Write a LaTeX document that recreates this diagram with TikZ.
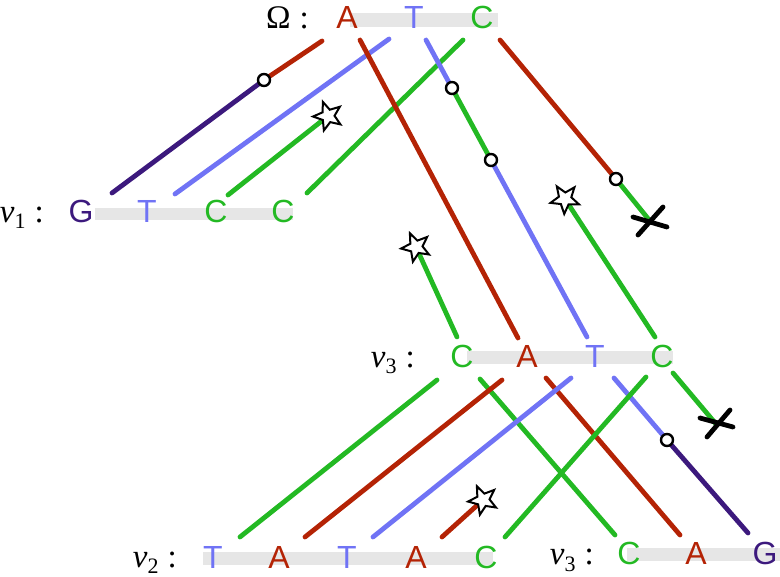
\documentclass[tikz,border=0pt]{standalone}
\usepackage{fontspec}
\newfontfamily\lettfont{Liberation Sans}
\newfontfamily\labfont{Liberation Serif}
\usetikzlibrary{shapes.geometric}
\definecolor{cred}{RGB}{180,35,5}
\definecolor{cblue}{RGB}{112,115,245}
\definecolor{cgreen}{RGB}{35,185,35}
\definecolor{cpurple}{RGB}{60,25,125}
\definecolor{cbar}{RGB}{230,230,230}
\newcommand{\seqname}[1]{\textit{v}\raisebox{-6pt}{\fontsize{22}{26}\selectfont #1}\hspace{9pt}:}
\tikzset{
  link/.style={line width=4.8pt, line cap=round},
  letter/.style={font=\lettfont\fontsize{32}{38}\selectfont, inner sep=0pt, anchor=base},
  seqlabel/.style={font=\labfont\fontsize{33}{40}\selectfont, inner sep=0pt, anchor=base east},
  ring/.style={circle, draw=black, fill=white, line width=2.4pt, minimum size=12pt, inner sep=0pt},
  starmark/.style={star, star points=5, star point ratio=2.3, draw=black, fill=white, line width=2pt, minimum size=30pt, inner sep=0pt},
  cross/.style={line width=4.8pt, black, line cap=round},
  seqbar/.style={fill=cbar},
}
\begin{document}
\begin{tikzpicture}[x=1pt,y=-1pt]
\useasboundingbox (0,0) rectangle (780,577);
% bars
\fill[seqbar] (350,13) rectangle (498,27);
\fill[seqbar] (95,208) rectangle (293,220);
\fill[seqbar] (467,351) rectangle (673,364);
\fill[seqbar] (203,552) rectangle (493,565);
\fill[seqbar] (627,548) rectangle (780,561);
% labels
\node[seqlabel] (lo) at (309,29) {Ω\hspace{9pt}:};
\node[seqlabel] (la) at (44,223) {\seqname{1}};
\node[seqlabel] (lb) at (415,368) {\seqname{3}};
\node[seqlabel] (lc) at (177,567) {\seqname{2}};
\node[seqlabel] (ld) at (594,565) {\seqname{3}};
% letters
\node[letter, text=cred] (oA) at (347,29) {A};
\node[letter, text=cblue] (oT) at (414,29) {T};
\node[letter, text=cgreen] (oC) at (482,29) {C};
\node[letter, text=cpurple] (aG) at (81,223) {G};
\node[letter, text=cblue] (aT) at (147,223) {T};
\node[letter, text=cgreen] (aC1) at (216,223) {C};
\node[letter, text=cgreen] (aC2) at (283,223) {C};
\node[letter, text=cgreen] (bC1) at (462,368) {C};
\node[letter, text=cred] (bA) at (527,368) {A};
\node[letter, text=cblue] (bT) at (595,368) {T};
\node[letter, text=cgreen] (bC2) at (662,368) {C};
\node[letter, text=cblue] (cT1) at (213,568) {T};
\node[letter, text=cred] (cA1) at (279,568) {A};
\node[letter, text=cblue] (cT2) at (347,568) {T};
\node[letter, text=cred] (cA2) at (416,568) {A};
\node[letter, text=cgreen] (cC) at (486,568) {C};
\node[letter, text=cgreen] (dC) at (629,565) {C};
\node[letter, text=cred] (dA) at (696,565) {A};
\node[letter, text=cpurple] (dG) at (765,565) {G};
% connector end points
\coordinate (p1) at (322,41);  \coordinate (q1) at (112,193);
\coordinate (p2) at (389,39);  \coordinate (q2) at (175,194);
\coordinate (p3) at (228,195);
\coordinate (p4) at (463,40);  \coordinate (q4) at (307,193);
\coordinate (p5) at (360,40);  \coordinate (q5) at (518,338);
\coordinate (p6) at (426,40);  \coordinate (q6) at (587,337);
\coordinate (p7) at (500,40);
\coordinate (p8) at (655,337);
\coordinate (p9) at (457,337);
\coordinate (p10) at (437,380); \coordinate (q10) at (240,537);
\coordinate (p11) at (480,379); \coordinate (q11) at (615,535);
\coordinate (p12) at (502,380); \coordinate (q12) at (305,537);
\coordinate (p13) at (546,378); \coordinate (q13) at (680,535);
\coordinate (p14) at (571,378); \coordinate (q14) at (373,537);
\coordinate (p15) at (614,378); \coordinate (q15) at (748,533);
\coordinate (p16) at (646,377); \coordinate (q16) at (505,537);
\coordinate (p17) at (673,373);
\coordinate (p18) at (442,537);
% marks positions
\coordinate (c1) at (264,80);
\coordinate (c2) at (452,88);
\coordinate (c3) at (491,160);
\coordinate (c4) at (616,179);
\coordinate (c5) at (667,440);
\coordinate (s1) at (328,116);
\coordinate (s2) at (565,199);
\coordinate (s3) at (416,247);
\coordinate (s4) at (483,500);
\coordinate (x1) at (650,221);
\coordinate (x2) at (716,424);
% connectors
\draw[link, cred] (p1) -- (c1);
\draw[link, cpurple] (c1) -- (q1);
\draw[link, cblue] (p2) -- (q2);
\draw[link, cgreen] (p3) -- (s1);
\draw[link, cgreen] (p4) -- (q4);
\draw[link, cred] (p5) -- (q5);
\draw[link, cblue] (p6) -- (c2);
\draw[link, cgreen] (c2) -- (c3);
\draw[link, cblue] (c3) -- (q6);
\draw[link, cred] (p7) -- (c4);
\draw[link, cgreen] (c4) -- (x1);
\draw[link, cgreen] (p8) -- (s2);
\draw[link, cgreen] (p9) -- (s3);
\draw[link, cgreen] (p10) -- (q10);
\draw[link, cgreen] (p11) -- (q11);
\draw[link, cred] (p12) -- (q12);
\draw[link, cred] (p13) -- (q13);
\draw[link, cblue] (p14) -- (q14);
\draw[link, cblue] (p15) -- (c5);
\draw[link, cpurple] (c5) -- (q15);
\draw[link, cgreen] (p16) -- (q16);
\draw[link, cgreen] (p17) -- (x2);
\draw[link, cred] (p18) -- (s4);
% marks
\node[ring] (r1) at (c1) {};
\node[ring] (r2) at (c2) {};
\node[ring] (r3) at (c3) {};
\node[ring] (r4) at (c4) {};
\node[ring] (r5) at (c5) {};
\node[starmark, rotate=-52] (t1) at (s1) {};
\node[starmark, rotate=33] (t2) at (s2) {};
\node[starmark, rotate=24] (t3) at (s3) {};
\node[starmark, rotate=-48] (t4) at (s4) {};
\draw[cross] ([shift={(-17,-4)}]x1) -- ([shift={(17,6)}]x1);
\draw[cross] ([shift={(-12,14)}]x1) -- ([shift={(13,-14)}]x1);
\draw[cross] ([shift={(-16,-6)}]x2) -- ([shift={(17,3)}]x2);
\draw[cross] ([shift={(-9,13)}]x2) -- ([shift={(14,-14)}]x2);
\end{tikzpicture}
\end{document}
